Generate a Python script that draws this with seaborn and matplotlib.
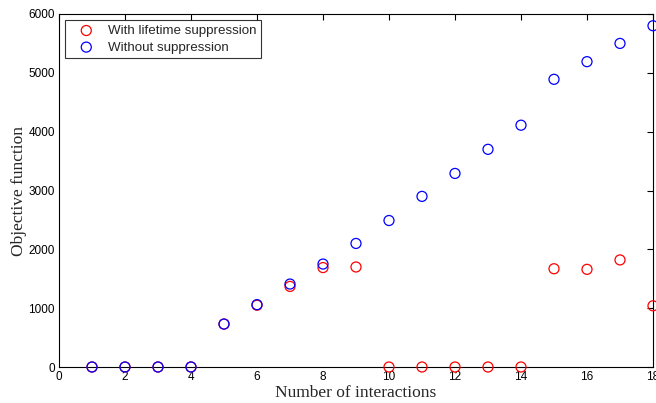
#!/usr/bin/env python3
"""
Objective function vs number of interactions, with and without lifetime suppression.
"""

import matplotlib
matplotlib.use("Agg")
import matplotlib.pyplot as plt
import seaborn as sns
import pandas as pd

# Data
interactions = [1, 2, 3, 4, 5, 6, 7, 8, 9, 10, 11, 12, 13, 14, 15, 16, 17, 18]
with_suppression = [0, 0, 0, 0, 730, 1050, 1370, 1690, 1700, 0, 0, 0, 0, 0,
                    1670, 1660, 1820, 1040]
without_suppression = [0, 0, 0, 0, 730, 1060, 1410, 1750, 2100, 2490, 2900,
                       3290, 3700, 4110, 4890, 5190, 5500, 5800]

labels = ['With lifetime suppression', 'Without suppression']
colors = ['#ff0000', '#0000ff']
x_ticks = list(range(0, 19, 2))
y_ticks = list(range(0, 6001, 1000))


def main():
    sns.set_style('white')
    plt.rcParams['font.family'] = ['Liberation Sans', 'DejaVu Sans']

    df = pd.DataFrame({
        'x': interactions * 2,
        'y': with_suppression + without_suppression,
        'series': [labels[0]] * len(interactions) + [labels[1]] * len(interactions),
    })

    fig = plt.figure(figsize=(6.56, 4.03), dpi=100)
    ax = fig.add_axes([59 / 656, 36 / 403, 594 / 656, 353 / 403])

    for label, color in zip(labels, colors):
        sub = df[df['series'] == label]
        sns.scatterplot(data=sub, x='x', y='y', ax=ax, marker='o', s=52,
                        facecolors='none', edgecolor=color, linewidth=0.9,
                        label=label, clip_on=False, zorder=3)

    ax.set_xlim(0, 18)
    ax.set_ylim(0, 6000)
    ax.set_xticks(x_ticks)
    ax.set_yticks(y_ticks)
    ax.tick_params(direction='in', length=4, width=0.8, top=True, right=True,
                   labelsize=8.5, colors='black', pad=3)
    for spine in ax.spines.values():
        spine.set_visible(True)
        spine.set_color('black')
        spine.set_linewidth(0.8)

    ax.set_xlabel('Number of interactions', family='Liberation Serif', fontsize=12.5,
                  labelpad=1)
    ax.set_ylabel('Objective function', family='Liberation Serif', fontsize=12.5,
                  labelpad=1)

    leg = ax.legend(loc='upper left', bbox_to_anchor=(0.01, 0.983), fontsize=9.6,
                    frameon=True, fancybox=False, edgecolor='black',
                    borderpad=0.35, handletextpad=0.4, labelspacing=0.32,
                    handlelength=2.5, borderaxespad=0)
    leg.get_frame().set_linewidth(0.8)

    fig.savefig('out.png', dpi=100)
    plt.close(fig)


if __name__ == "__main__":
    main()
